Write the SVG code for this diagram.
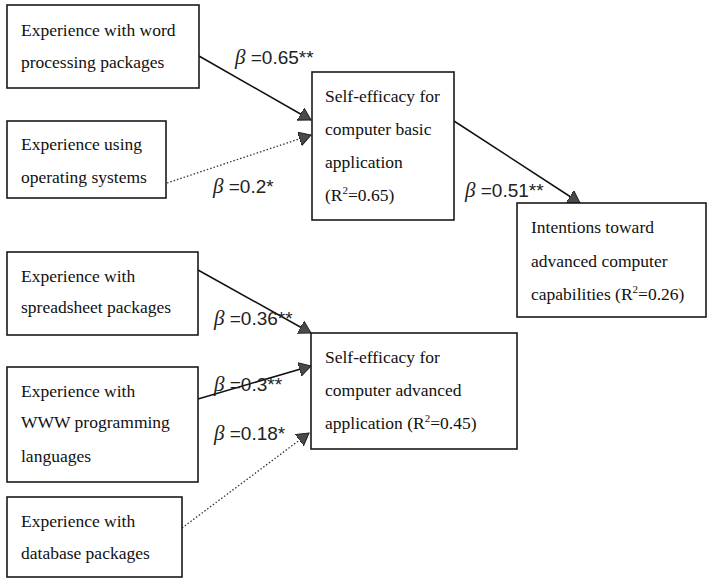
<svg xmlns="http://www.w3.org/2000/svg" width="707" height="579" viewBox="0 0 707 579">
<style>
.box{fill:#ffffff;stroke:#1a1a1a;stroke-width:1.6}
.t{font-family:"Liberation Serif","Times New Roman",serif;font-size:17.5px;fill:#111}
.lbl{font-family:"Liberation Sans",Arial,sans-serif;font-size:19px;fill:#222}
.beta{font-family:"Liberation Serif",serif;font-style:italic;font-size:21px}
.solid{stroke:#111;stroke-width:1.5;fill:none}
.dot{stroke:#333;stroke-width:1.3;stroke-dasharray:1.5,2;fill:none}
.sup{font-size:11px}
</style>
<defs>
<marker id="ah" markerUnits="userSpaceOnUse" markerWidth="14" markerHeight="16" refX="12" refY="7" orient="auto" viewBox="0 0 14 16">
<path d="M0,0 L12,7 L0,14 Z" fill="#4a4a4a" stroke="#222" stroke-width="1"/>
</marker>
</defs>
<rect width="707" height="579" fill="#ffffff"/>
<g id="connectors">
<line class="solid" x1="199" y1="56" x2="311" y2="120" marker-end="url(#ah)"/>
<line class="dot" x1="167" y1="183" x2="311" y2="135" marker-end="url(#ah)"/>
<line class="solid" x1="454" y1="121" x2="580" y2="203" marker-end="url(#ah)"/>
<line class="solid" x1="198" y1="270" x2="311" y2="333" marker-end="url(#ah)"/>
<line class="solid" x1="198" y1="399" x2="311" y2="366" marker-end="url(#ah)"/>
<line class="dot" x1="182" y1="528" x2="309" y2="433" marker-end="url(#ah)"/>
</g>
<g id="labels">
<text class="lbl" x="235" y="64"><tspan class="beta">β</tspan> =0.65**</text>
<text class="lbl" x="213" y="193"><tspan class="beta">β</tspan> =0.2*</text>
<text class="lbl" x="465" y="197"><tspan class="beta">β</tspan> =0.51**</text>
<text class="lbl" x="214" y="325"><tspan class="beta">β</tspan> =0.36**</text>
<text class="lbl" x="214" y="391"><tspan class="beta">β</tspan> =0.3**</text>
<text class="lbl" x="214" y="440"><tspan class="beta">β</tspan> =0.18*</text>
</g>
<g id="word">
<rect class="box" x="7" y="5" width="192" height="83"/>
<text class="t" x="21" y="36">Experience with word</text>
<text class="t" x="21" y="68">processing packages</text>
</g>
<g id="os">
<rect class="box" x="7" y="121" width="159" height="77"/>
<text class="t" x="21" y="150">Experience using</text>
<text class="t" x="21" y="183">operating systems</text>
</g>
<g id="basic">
<rect class="box" x="312" y="72" width="142" height="148"/>
<text class="t" x="325" y="102">Self-efficacy for</text>
<text class="t" x="325" y="135">computer basic</text>
<text class="t" x="325" y="168">application</text>
<text class="t" x="325" y="201">(R<tspan class="sup" dy="-7">2</tspan><tspan dy="7">=0.65)</tspan></text>
</g>
<g id="intentions">
<rect class="box" x="517" y="203" width="189" height="114"/>
<text class="t" x="531" y="233">Intentions toward</text>
<text class="t" x="531" y="267">advanced computer</text>
<text class="t" x="531" y="300">capabilities (R<tspan class="sup" dy="-7">2</tspan><tspan dy="7">=0.26)</tspan></text>
</g>
<g id="spreadsheet">
<rect class="box" x="7" y="252" width="191" height="83"/>
<text class="t" x="21" y="282">Experience with</text>
<text class="t" x="21" y="313">spreadsheet packages</text>
</g>
<g id="advanced">
<rect class="box" x="311" y="333" width="206" height="116"/>
<text class="t" x="325" y="363">Self-efficacy for</text>
<text class="t" x="325" y="396">computer advanced</text>
<text class="t" x="325" y="429">application (R<tspan class="sup" dy="-7">2</tspan><tspan dy="7">=0.45)</tspan></text>
</g>
<g id="www">
<rect class="box" x="7" y="367" width="191" height="115"/>
<text class="t" x="21" y="397">Experience with</text>
<text class="t" x="21" y="428">WWW programming</text>
<text class="t" x="21" y="462">languages</text>
</g>
<g id="database">
<rect class="box" x="7" y="497" width="175" height="80"/>
<text class="t" x="21" y="527">Experience with</text>
<text class="t" x="21" y="559">database packages</text>
</g>
</svg>
